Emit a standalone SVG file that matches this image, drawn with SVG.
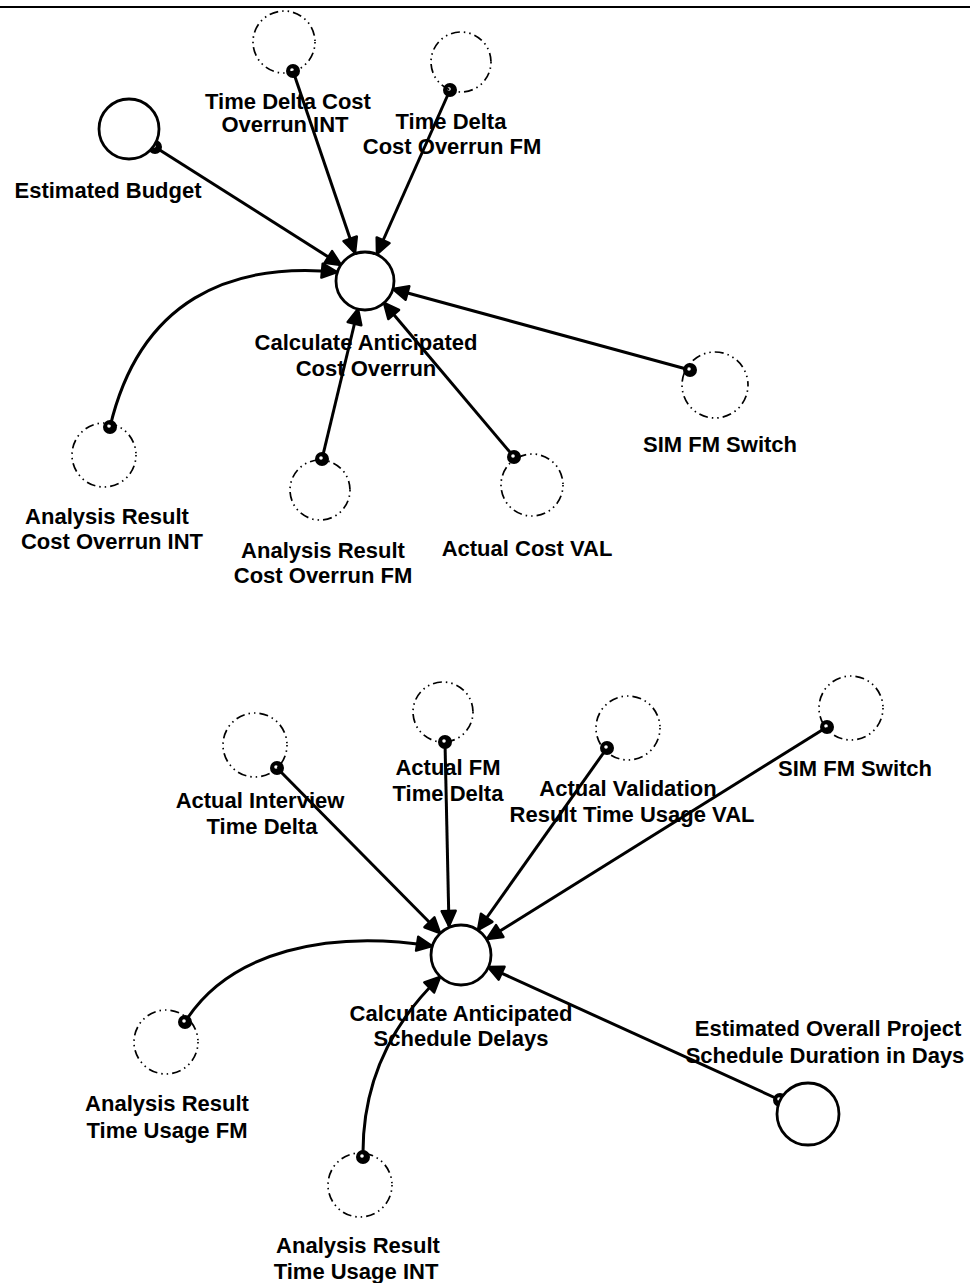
<svg xmlns="http://www.w3.org/2000/svg" width="970" height="1283" viewBox="0 0 970 1283">
  <style>
    .solid { fill: #fff; stroke: #000; stroke-width: 2.8; }
    .ghost { fill: none; stroke: #000; stroke-width: 1.7; stroke-dasharray: 1.5 4 1.5 4 9 4; }
    .link { fill: none; stroke: #000; stroke-width: 3; marker-end: url(#head); }
    .tap { fill: #000; stroke: #000; stroke-width: 2; }
    .hole { fill: #fff; }
    .lbl { font-family: "Liberation Sans", Arial, sans-serif; font-size: 22px; font-weight: bold; fill: #000; text-anchor: middle; }
  </style>
  <defs>
    <!-- solid wedge arrowhead used on every connector -->
    <marker id="head" markerUnits="userSpaceOnUse" markerWidth="20" markerHeight="18" refX="16" refY="9" orient="auto" overflow="visible">
      <path d="M1,2 L16,9 L1,16 Z" fill="#000" stroke="#000" stroke-width="2.5" stroke-linejoin="round"/>
    </marker>
  </defs>

  <rect width="970" height="1283" fill="#fff"/>
  <line x1="0" y1="7" x2="970" y2="7" stroke="#000" stroke-width="2"/>

  <!-- connectors -->
  <g id="connectors">
    <!-- cost overrun converter inputs -->
    <line class="link" x1="155" y1="147" x2="341" y2="265"/>
    <line class="link" x1="293" y1="71" x2="355" y2="253"/>
    <line class="link" x1="450" y1="90" x2="377" y2="254"/>
    <line class="link" x1="690" y1="370" x2="393" y2="289"/>
    <line class="link" x1="514" y1="457" x2="384" y2="303"/>
    <line class="link" x1="322" y1="459" x2="358" y2="309"/>
    <path class="link" d="M110,427 C140,300 230,262 337,272"/>
    <!-- schedule delay converter inputs -->
    <line class="link" x1="277" y1="768" x2="440" y2="933"/>
    <line class="link" x1="445" y1="742" x2="449" y2="926"/>
    <line class="link" x1="607" y1="748" x2="478" y2="930"/>
    <line class="link" x1="827" y1="727" x2="487" y2="939"/>
    <line class="link" x1="780" y1="1100" x2="488" y2="967"/>
    <path class="link" d="M185,1022 C230,950 330,930 432,946"/>
    <path class="link" d="M363,1157 C362,1090 385,1030 440,977"/>
    <!-- source taps -->
    <circle class="tap" cx="155" cy="147" r="6"/><circle class="hole" cx="154" cy="146" r="1.8"/>
    <circle class="tap" cx="293" cy="71" r="6"/><circle class="hole" cx="292" cy="70" r="1.8"/>
    <circle class="tap" cx="450" cy="90" r="6"/><circle class="hole" cx="449" cy="89" r="1.8"/>
    <circle class="tap" cx="690" cy="370" r="6"/><circle class="hole" cx="689" cy="369" r="1.8"/>
    <circle class="tap" cx="514" cy="457" r="6"/><circle class="hole" cx="513" cy="456" r="1.8"/>
    <circle class="tap" cx="322" cy="459" r="6"/><circle class="hole" cx="321" cy="458" r="1.8"/>
    <circle class="tap" cx="110" cy="427" r="6"/><circle class="hole" cx="109" cy="426" r="1.8"/>
    <circle class="tap" cx="277" cy="768" r="6"/><circle class="hole" cx="276" cy="767" r="1.8"/>
    <circle class="tap" cx="445" cy="742" r="6"/><circle class="hole" cx="444" cy="741" r="1.8"/>
    <circle class="tap" cx="607" cy="748" r="6"/><circle class="hole" cx="606" cy="747" r="1.8"/>
    <circle class="tap" cx="827" cy="727" r="6"/><circle class="hole" cx="826" cy="726" r="1.8"/>
    <circle class="tap" cx="780" cy="1100" r="6"/><circle class="hole" cx="779" cy="1099" r="1.8"/>
    <circle class="tap" cx="185" cy="1022" r="6"/><circle class="hole" cx="184" cy="1021" r="1.8"/>
    <circle class="tap" cx="363" cy="1157" r="6"/><circle class="hole" cx="362" cy="1156" r="1.8"/>
  </g>

  <!-- cost overrun sector -->
  <g id="calc-cost-overrun">
    <circle class="solid" cx="365" cy="281" r="29"/>
    <text class="lbl" x="366" y="350">Calculate Anticipated</text>
    <text class="lbl" x="366" y="376">Cost Overrun</text>
  </g>
  <g id="estimated-budget">
    <circle class="solid" cx="129" cy="129" r="30"/>
    <text class="lbl" x="108" y="198">Estimated Budget</text>
  </g>
  <g id="time-delta-int">
    <circle class="ghost" cx="284" cy="42" r="31"/>
    <text class="lbl" x="288" y="109">Time Delta Cost</text>
    <text class="lbl" x="285" y="132">Overrun INT</text>
  </g>
  <g id="time-delta-fm">
    <circle class="ghost" cx="461" cy="62" r="30"/>
    <text class="lbl" x="451" y="129">Time Delta</text>
    <text class="lbl" x="452" y="154">Cost Overrun FM</text>
  </g>
  <g id="analysis-cost-int">
    <circle class="ghost" cx="104" cy="455" r="32"/>
    <text class="lbl" x="107" y="524">Analysis Result</text>
    <text class="lbl" x="112" y="549">Cost Overrun INT</text>
  </g>
  <g id="analysis-cost-fm">
    <circle class="ghost" cx="320" cy="490" r="30"/>
    <text class="lbl" x="323" y="558">Analysis Result</text>
    <text class="lbl" x="323" y="583">Cost Overrun FM</text>
  </g>
  <g id="actual-cost-val">
    <circle class="ghost" cx="532" cy="485" r="31"/>
    <text class="lbl" x="527" y="556">Actual Cost VAL</text>
  </g>
  <g id="sim-fm-switch-1">
    <circle class="ghost" cx="715" cy="385" r="33"/>
    <text class="lbl" x="720" y="452">SIM FM Switch</text>
  </g>

  <!-- schedule delay sector -->
  <g id="calc-schedule-delays">
    <circle class="solid" cx="461" cy="955" r="30"/>
    <text class="lbl" x="461" y="1021">Calculate Anticipated</text>
    <text class="lbl" x="461" y="1046">Schedule Delays</text>
  </g>
  <g id="actual-interview">
    <circle class="ghost" cx="255" cy="745" r="32"/>
    <text class="lbl" x="260" y="808">Actual Interview</text>
    <text class="lbl" x="262" y="834">Time Delta</text>
  </g>
  <g id="actual-fm">
    <circle class="ghost" cx="443" cy="712" r="30"/>
    <text class="lbl" x="448" y="775">Actual FM</text>
    <text class="lbl" x="448" y="801">Time Delta</text>
  </g>
  <g id="actual-validation">
    <circle class="ghost" cx="628" cy="728" r="32"/>
    <text class="lbl" x="628" y="796">Actual Validation</text>
    <text class="lbl" x="632" y="822">Result Time Usage VAL</text>
  </g>
  <g id="sim-fm-switch-2">
    <circle class="ghost" cx="851" cy="708" r="32"/>
    <text class="lbl" x="855" y="776">SIM FM Switch</text>
  </g>
  <g id="estimated-duration">
    <circle class="solid" cx="808" cy="1114" r="31"/>
    <text class="lbl" x="828" y="1036">Estimated Overall Project</text>
    <text class="lbl" x="825" y="1063">Schedule Duration in Days</text>
  </g>
  <g id="analysis-time-fm">
    <circle class="ghost" cx="166" cy="1042" r="32"/>
    <text class="lbl" x="167" y="1111">Analysis Result</text>
    <text class="lbl" x="167" y="1138">Time Usage FM</text>
  </g>
  <g id="analysis-time-int">
    <circle class="ghost" cx="360" cy="1185" r="32"/>
    <text class="lbl" x="358" y="1253">Analysis Result</text>
    <text class="lbl" x="356" y="1279">Time Usage INT</text>
  </g>
</svg>
